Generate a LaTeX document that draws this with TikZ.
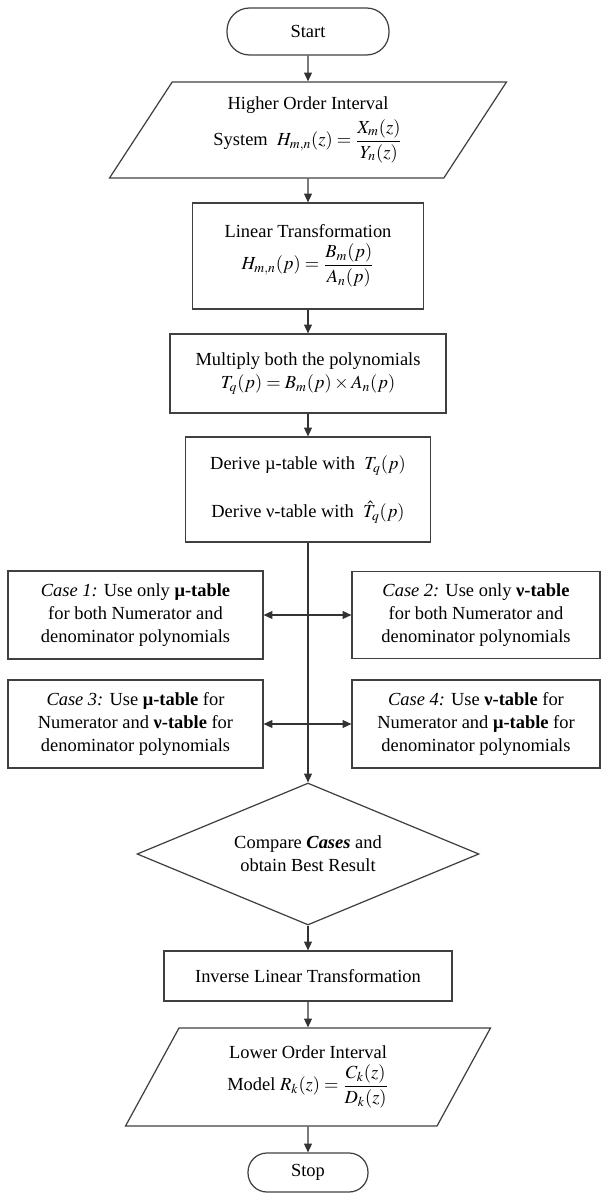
\documentclass[tikz,border=0pt]{standalone}
\usepackage{amsmath}
\usepackage{mathptmx}
\usepackage{fontspec}
\setmainfont{Liberation Serif}
\usepackage{tikz}
\usetikzlibrary{arrows.meta, shapes.geometric}
\usepackage{xcolor}

\begin{document}
\begin{tikzpicture}[x=0.02cm, y=-0.02cm]

    % --- Global Settings ---
    \tikzset{
        every node/.style={font=\fontsize{10.5}{13}\selectfont, align=center, text=black},
        boxstyle/.style={draw=black!75, line width=0.7pt, rectangle, inner sep=2pt},
        termstyle/.style={boxstyle, rounded corners=0.45cm},
        iostyle/.style={draw=black!75, line width=0.7pt, trapezium, trapezium stretches body},
        decstyle/.style={draw=black!75, line width=0.7pt, diamond, aspect=2.4, inner sep=0pt},
        arrowstyle/.style={-{Triangle[length=5pt, width=4.5pt]}, line width=0.7pt, draw=black!80},
        twowaystyle/.style={{Triangle[length=5pt, width=4.5pt]}-{Triangle[length=5pt, width=4.5pt]}, line width=0.7pt, draw=black!80}
    }

    \useasboundingbox (0,0) rectangle (602,1193);

    % --- Main Chain ---
    \node[termstyle, minimum width=3.24cm, minimum height=0.94cm] (start) at (308,31.5) {Start};

    \node[iostyle, trapezium left angle=51, trapezium right angle=129,
          minimum width=7.94cm, minimum height=1.92cm] (hsys) at (308,130)
        {Higher Order Interval\\[2pt] System \ $H_{m,n}(z)=\dfrac{X_m(z)}{Y_n(z)}$};

    \node[boxstyle, minimum width=4.62cm, minimum height=2.12cm] (lin) at (308,256)
        {Linear Transformation\\[2pt] $H_{m,n}(p)=\dfrac{B_m(p)}{A_n(p)}$};

    \node[boxstyle, minimum width=5.52cm, minimum height=1.58cm] (mult) at (308,373.5)
        {Multiply both the polynomials\\ $T_q(p)=B_m(p)\times A_n(p)$};

    \node[boxstyle, minimum width=4.9cm, minimum height=2.1cm] (derive) at (308,489.5)
        {Derive \textmu-table with \ $T_q(p)$\\[14pt] Derive ν-table with \ $\hat{T}_q(p)$};

    % --- Cases ---
    \node[boxstyle, minimum width=5.1cm, minimum height=1.76cm] (case1) at (135.5,615)
        {\textit{Case 1:} Use only \textbf{μ-table}\\ for both Numerator and\\ denominator polynomials};
    \node[boxstyle, minimum width=4.96cm, minimum height=1.74cm] (case2) at (476,615)
        {\textit{Case 2:} Use only \textbf{ν-table}\\ for both Numerator and\\ denominator polynomials};
    \node[boxstyle, minimum width=5.1cm, minimum height=1.76cm] (case3) at (135.5,724)
        {\textit{Case 3:} Use \textbf{μ-table} for\\ Numerator and \textbf{ν-table} for\\ denominator polynomials};
    \node[boxstyle, minimum width=4.96cm, minimum height=1.76cm] (case4) at (476,724)
        {\textit{Case 4:} Use \textbf{ν-table} for\\ Numerator and \textbf{μ-table} for\\ denominator polynomials};

    \node[decstyle, minimum width=6.84cm, minimum height=2.84cm] (compare) at (308,854)
        {Compare \textbf{\textit{Cases}} and\\ obtain Best Result};

    \node[boxstyle, minimum width=5.76cm, minimum height=1cm] (inverse) at (308,976)
        {Inverse Linear Transformation};

    \node[iostyle, trapezium left angle=54, trapezium right angle=126,
          minimum width=7.3cm, minimum height=1.96cm] (lsys) at (308,1077)
        {Lower Order Interval\\[2pt] Model $R_k(z)=\dfrac{C_k(z)}{D_k(z)}$};

    \node[termstyle, rounded corners=0.38cm, minimum width=2.4cm, minimum height=0.78cm] (stop) at (308,1172.5) {Stop};

    % --- Connectors ---
    \foreach \a/\b in {start/hsys, hsys/lin, lin/mult, mult/derive, derive/compare, compare/inverse, inverse/lsys, lsys/stop} {
        \draw[arrowstyle] (\a) -- (\b);
    }

    \draw[twowaystyle] (case1) -- (case2);
    \draw[twowaystyle] (case3) -- (case4);

\end{tikzpicture}
\end{document}
